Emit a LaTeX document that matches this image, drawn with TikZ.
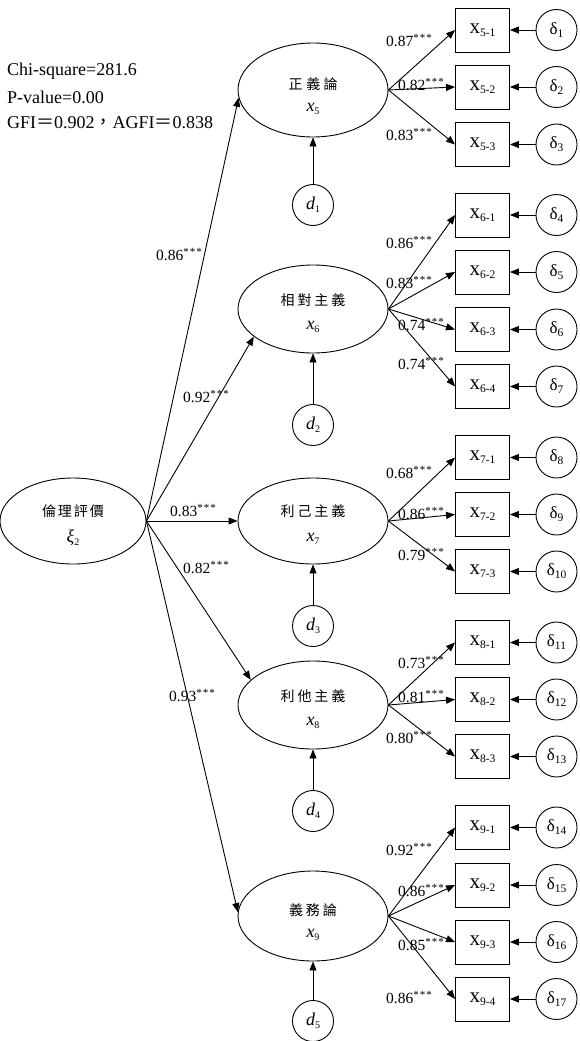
\documentclass[tikz,border=0pt]{standalone}
\usepackage{fontspec}
\setmainfont{Liberation Serif}
\newfontfamily\cjk{Noto Sans CJK TC}
\usetikzlibrary{shapes.geometric,arrows.meta}
\newcommand\ltv[2]{{\fontsize{18}{18}\selectfont\itshape #1}\raisebox{-3pt}{\fontsize{10}{10}\selectfont #2}}
\newcommand\obsv[1]{{\fontsize{21}{21}\selectfont x}\raisebox{-3pt}{\fontsize{11.5}{11.5}\selectfont #1}}
\newcommand\errv[1]{{\fontsize{17}{17}\selectfont δ}\raisebox{-3pt}{\fontsize{11.5}{11.5}\selectfont #1}}
\newcommand\pathcoef[1]{{\fontsize{15.5}{15.5}\selectfont #1}\raisebox{5pt}{\fontsize{11}{11}\selectfont *\kern1pt*\kern1pt*}}
\newcommand\zh[1]{{\cjk\fontsize{14}{14}\selectfont #1}}
\tikzset{
 lat/.style={draw, ellipse, line width=0.9pt, minimum width=150pt, inner sep=0pt},
 obs/.style={draw, rectangle, minimum width=54pt, minimum height=44pt, inner sep=0pt, line width=0.9pt},
 err/.style={draw, circle, minimum size=41pt, inner sep=0pt, line width=0.9pt},
 arr/.style={-{Triangle[length=9pt,width=7pt]}, line width=0.9pt},
 lab/.style={inner sep=0pt, anchor=base west},
 txt/.style={inner sep=0pt},
 fit/.style={inner sep=0pt, anchor=base west, font=\fontsize{18}{18}\selectfont}
}
\begin{document}
\begin{tikzpicture}[x=1pt,y=-1pt]
\useasboundingbox (0,0) rectangle (580,1041);
% fit indices
\node[fit] (chi) at (7,76) {Chi-square=281.6};
\node[fit] (pv) at (7,103) {P-value=0.00};
\node[fit] (gfi) at (7,128) {GFI{\cjk ＝}0.902{\cjk ，}AGFI{\cjk ＝}0.838};
% exogenous latent
\node[lat, minimum width=146pt, minimum height=86pt] (xi) at (73,521) {};
\node[txt] (xit1) at (73,511) {\zh{倫\hspace{2pt}理\hspace{2pt}評\hspace{2pt}價}};
\node[txt] (xit2) at (73,538) {\ltv{ξ}{2}};
% endogenous latents
\node[lat, minimum height=94pt] (x5) at (313,90) {};
\node[lat, minimum height=88pt] (x6) at (313,309) {};
\node[lat, minimum height=86pt] (x7) at (313,521) {};
\node[lat, minimum height=88pt] (x8) at (313,705) {};
\node[lat, minimum height=90pt] (x9) at (313,916) {};
\node[txt] (x5t1) at (313,84) {\zh{正\hspace{4pt}義\hspace{3pt}論}};
\node[txt] (x5t2) at (313,109) {\ltv{x}{5}};
\node[txt] (x6t1) at (313,300) {\zh{相\hspace{3pt}對\hspace{3pt}主\hspace{3pt}義}};
\node[txt] (x6t2) at (313,327) {\ltv{x}{6}};
\node[txt] (x7t1) at (313,511) {\zh{利\hspace{3pt}己\hspace{3pt}主\hspace{3pt}義}};
\node[txt] (x7t2) at (313,539) {\ltv{x}{7}};
\node[txt] (x8t1) at (313,696) {\zh{利\hspace{3pt}他\hspace{3pt}主\hspace{3pt}義}};
\node[txt] (x8t2) at (313,723) {\ltv{x}{8}};
\node[txt] (x9t1) at (313,910) {\zh{義\hspace{3pt}務\hspace{3pt}論}};
\node[txt] (x9t2) at (313,935) {\ltv{x}{9}};
% disturbances
\node[err] (d1) at (313,205) {\ltv{d}{1}};
\node[err] (d2) at (313,425) {\ltv{d}{2}};
\node[err] (d3) at (313,626) {\ltv{d}{3}};
\node[err] (d4) at (313,811) {\ltv{d}{4}};
\node[err] (d5) at (313,1021) {\ltv{d}{5}};
\foreach \i in {1,...,5}{
  \pgfmathtruncatemacro\j{\i+4}
  \draw[arr] (d\i.north) -- (x\j.south);
}
% structural paths
\draw[arr] (xi.east) -- (x5.186);
\draw[arr] (xi.east) -- (x6.205);
\draw[arr] (xi.east) -- (x7.west);
\draw[arr] (xi.east) -- (x8.158);
\draw[arr] (xi.east) -- (x9.177);
\node[lab] (g5) at (156,260) {\pathcoef{0.86}};
\node[lab] (g6) at (183,402) {\pathcoef{0.92}};
\node[lab] (g7) at (170,516) {\pathcoef{0.83}};
\node[lab] (g8) at (183,573) {\pathcoef{0.82}};
\node[lab] (g9) at (169,701) {\pathcoef{0.93}};
% indicators: boxes and errors
\foreach \nm/\yy/\sb/\dn in {
 b51/30/5-1/1, b52/87/5-2/2, b53/144.5/5-3/3,
 b61/215/6-1/4, b62/272/6-2/5, b63/329.5/6-3/6, b64/386.5/6-4/7,
 b71/457.5/7-1/8, b72/514.5/7-2/9, b73/571.5/7-3/10,
 b81/642.5/8-1/11, b82/699.5/8-2/12, b83/756.5/8-3/13,
 b91/827.5/9-1/14, b92/885/9-2/15, b93/942/9-3/16, b94/999/9-4/17}{
  \node[obs] (\nm) at (482.5,\yy) {\obsv{\sb}};
  \node[err] (e\nm) at (556.5,\yy) {\errv{\dn}};
  \draw[arr] (e\nm.west) -- (\nm.east);
}
% loadings
\foreach \b in {b51,b52,b53}{\draw[arr] (x5.east) -- (\b.west);}
\foreach \b in {b61,b62,b63,b64}{\draw[arr] (x6.east) -- (\b.west);}
\foreach \b in {b71,b72,b73}{\draw[arr] (x7.east) -- (\b.west);}
\foreach \b in {b81,b82,b83}{\draw[arr] (x8.east) -- (\b.west);}
\foreach \b in {b91,b92,b93,b94}{\draw[arr] (x9.east) -- (\b.west);}
\node[lab] (l51) at (386,47) {\pathcoef{0.87}};
\node[lab] (l52) at (398,90) {\pathcoef{0.82}};
\node[lab] (l53) at (386,140) {\pathcoef{0.83}};
\node[lab] (l61) at (386,248) {\pathcoef{0.86}};
\node[lab] (l62) at (386,288) {\pathcoef{0.83}};
\node[lab] (l63) at (398,330) {\pathcoef{0.74}};
\node[lab] (l64) at (398,369) {\pathcoef{0.74}};
\node[lab] (l71) at (386,478) {\pathcoef{0.68}};
\node[lab] (l72) at (398,519) {\pathcoef{0.86}};
\node[lab] (l73) at (398,560) {\pathcoef{0.79}};
\node[lab] (l81) at (398,668) {\pathcoef{0.73}};
\node[lab] (l82) at (398,702) {\pathcoef{0.81}};
\node[lab] (l83) at (386,743) {\pathcoef{0.80}};
\node[lab] (l91) at (386,855) {\pathcoef{0.92}};
\node[lab] (l92) at (398,896) {\pathcoef{0.86}};
\node[lab] (l93) at (398,950) {\pathcoef{0.85}};
\node[lab] (l94) at (386,1003) {\pathcoef{0.86}};
\end{tikzpicture}
\end{document}
